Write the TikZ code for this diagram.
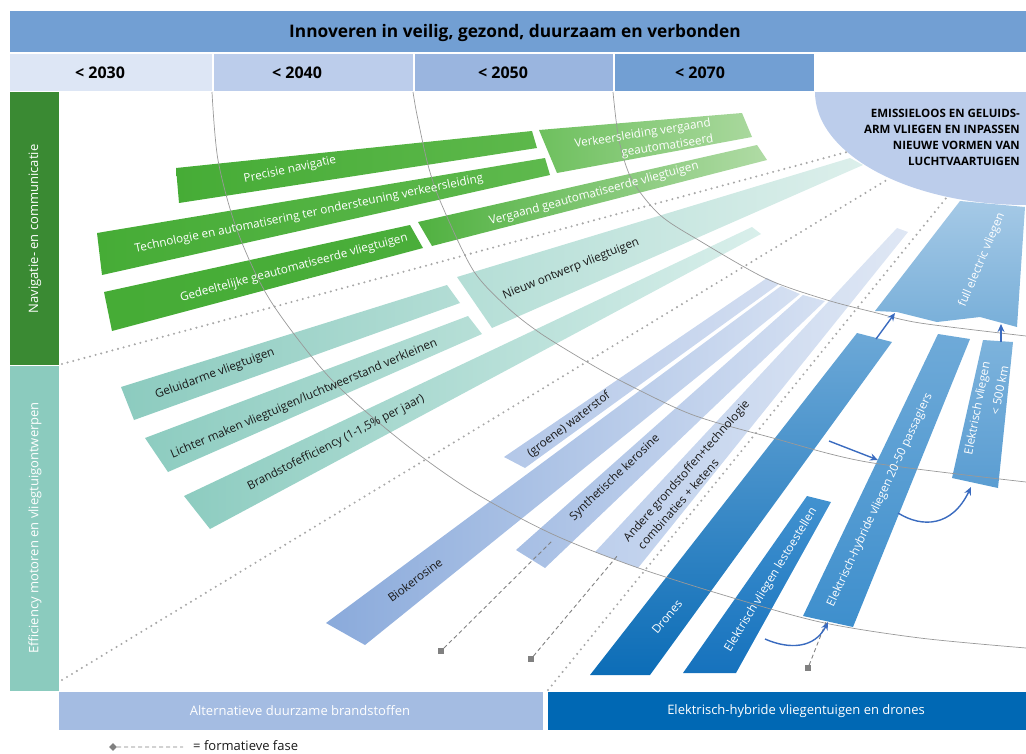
\documentclass[tikz,border=0pt]{standalone}
\usepackage{fontspec}
\setmainfont{Open Sans}
\usetikzlibrary{arrows.meta}
\definecolor{titleblue}{HTML}{729FD3}
\definecolor{yearA}{HTML}{DDE6F5}
\definecolor{yearB}{HTML}{BCCDEB}
\definecolor{yearC}{HTML}{9AB5DF}
\definecolor{navgreen}{HTML}{3A8A33}
\definecolor{effteal}{HTML}{8BCBBE}
\definecolor{fuelblue}{HTML}{A4BCE2}
\definecolor{elecblue}{HTML}{0068B4}
\definecolor{arrowblue}{HTML}{3A6BBF}
\definecolor{dotgray}{HTML}{A8A8A8}
\definecolor{markgray}{HTML}{808080}
\definecolor{arcgray}{HTML}{999999}
\definecolor{darktext}{HTML}{1A1A1A}
\tikzset{
  barlabel/.style={font=\fontsize{11.7}{16}\selectfont, inner sep=0pt},
  lightlabel/.style={barlabel, text=white},
  darklabel/.style={barlabel, text=darktext},
  sidelabel/.style={font=\fontsize{13}{16}\selectfont, text=white, rotate=90, inner sep=0pt},
  bottomlabel/.style={font=\fontsize{13}{16}\selectfont, text=white, inner sep=0pt},
  yearlabel/.style={font=\bfseries\fontsize{16}{19}\selectfont, inner sep=0pt},
  arcline/.style={arcgray, line width=0.7pt},
  dotline/.style={dotgray, line width=2.3pt, line cap=round, dash pattern=on 0pt off 5.8pt},
  formline/.style={markgray, line width=0.9pt, dash pattern=on 4pt off 3pt},
  fmark/.style={fill=markgray, minimum size=5.5pt, inner sep=0pt},
  flow/.style={arrowblue, line width=1.4pt, -{Stealth[length=8pt,width=7pt]}}
}
\begin{document}
\begin{tikzpicture}[x=1pt,y=-1pt]
\useasboundingbox (0,0) rectangle (1026,753);
\fill[titleblue] (10,11) rectangle (1026,52);
\node[font=\bfseries\fontsize{17.3}{20}\selectfont, inner sep=0pt] (title) at (515,33) {Innoveren in veilig, gezond, duurzaam en verbonden};
\fill[yearA] (10,54) rectangle (212,91);
\fill[yearB] (214,54) rectangle (413,91);
\fill[yearC] (415,54) rectangle (613,91);
\fill[titleblue] (615,54) rectangle (814,91);
\node[yearlabel] (y2030) at (100,73) {< 2030};
\node[yearlabel] (y2040) at (297,73) {< 2040};
\node[yearlabel] (y2050) at (503,73) {< 2050};
\node[yearlabel] (y2070) at (700,73) {< 2070};
\begin{scope}
\clip (815,92) rectangle (1026,210);
\fill[yearB] (1026,92) ellipse[x radius=211, y radius=113];
\end{scope}
\node[font=\bfseries\fontsize{11.5}{16}\selectfont, align=right, anchor=east, inner sep=0pt] (goal) at (1020,137) {EMISSIELOOS EN GELUIDS-\\ARM VLIEGEN EN INPASSEN\\NIEUWE VORMEN VAN\\LUCHTVAARTUIGEN};
\fill[navgreen] (10,92) rectangle (59,365);
\node[sidelabel] (navlabel) at (35,229) {Navigatie- en communicatie};
\fill[effteal] (10,366) rectangle (59,691);
\node[sidelabel] (efflabel) at (35,528) {Efficiency motoren en vliegtuigontwerpen};
\fill[fuelblue] (59,692) rectangle (543,730);
\node[bottomlabel] (fuellabel) at (300,711) {Alternatieve duurzame brandstoffen};
\fill[elecblue] (548,692) rectangle (1026,730);
\node[bottomlabel] (eleclabel) at (796,711) {Elektrisch-hybride vliegentuigen en drones};
\shade[left color={rgb,255:red,70;green,172;blue,54}, right color={rgb,255:red,93;green,184;blue,75}] (176,168) -- (532,131) -- (537,148) -- (179,203) -- cycle;
\shade[left color={rgb,255:red,70;green,172;blue,54}, right color={rgb,255:red,94;green,185;blue,77}] (97,233) -- (545,158) -- (550,175) -- (102,275) -- cycle;
\shade[left color={rgb,255:red,70;green,172;blue,54}, right color={rgb,255:red,74;green,174;blue,58}] (104,292) -- (410,225) -- (423,248) -- (112,331) -- cycle;
\shade[left color={rgb,255:red,80;green,177;blue,64}, right color={rgb,255:red,176;green,219;blue,165}] (418,222) -- (757,145) -- (767,160) -- (432,246) -- cycle;
\shade[left color={rgb,255:red,110;green,192;blue,94}, right color={rgb,255:red,169;green,216;blue,157}] (539,130) -- (742,113) -- (752,137) -- (557,173) -- cycle;
\shade[left color={rgb,255:red,140;green,203;blue,191}, right color={rgb,255:red,179;green,221;blue,213}] (121,387) -- (447,285) -- (460,303) -- (134,420) -- cycle;
\shade[left color={rgb,255:red,141;green,204;blue,192}, right color={rgb,255:red,183;green,223;blue,215}] (145,438) -- (468,316) -- (482,334) -- (168,472) -- cycle;
\shade[left color={rgb,255:red,141;green,204;blue,192}, right color={rgb,255:red,217;green,239;blue,235}] (184,496) -- (752,227) -- (761,234) -- (210,529) -- cycle;
\shade[left color={rgb,255:red,180;green,222;blue,214}, right color={rgb,255:red,220;green,239;blue,235}] (457,277) -- (850,158) -- (863,165) -- (492,328) -- cycle;
\shade[left color={rgb,255:red,179;green,199;blue,232}, right color={rgb,255:red,211;green,222;blue,241}] (504,457) -- (767,278) -- (779,284) -- (525,468) -- cycle;
\shade[left color={rgb,255:red,138;green,170;blue,219}, right color={rgb,255:red,213;green,224;blue,242}] (326,623) -- (781,286) -- (800,294) -- (365,645) -- cycle;
\shade[left color={rgb,255:red,166;green,190;blue,228}, right color={rgb,255:red,213;green,224;blue,242}] (516,550) -- (803,295) -- (825,301) -- (545,568) -- cycle;
\shade[left color={rgb,255:red,189;green,207;blue,236}, right color={rgb,255:red,223;green,231;blue,244}] (595,552) -- (897,228) -- (908,232) -- (638,568) -- cycle;
\shade[top color={rgb,255:red,108;green,168;blue,215}, bottom color={rgb,255:red,12;green,109;blue,183}] (590,675) -- (857,333) -- (892,342) -- (650,675) -- cycle;
\shade[top color={rgb,255:red,66;green,146;blue,208}, bottom color={rgb,255:red,22;green,114;blue,189}] (683,673) -- (807,496) -- (831,502) -- (736,673) -- cycle;
\shade[top color={rgb,255:red,111;green,170;blue,216}, bottom color={rgb,255:red,62;green,143;blue,205}] (803,616) -- (938,334) -- (970,339) -- (853,627) -- cycle;
\shade[top color={rgb,255:red,125;green,179;blue,220}, bottom color={rgb,255:red,90;green,157;blue,210}] (983,340) -- (1013,342) -- (998,488) -- (952,478) -- cycle;
\shade[top color={rgb,255:red,165;green,201;blue,230}, bottom color={rgb,255:red,120;green,175;blue,217}] (960,201) -- (1025,207) -- (1017,327) -- (980,317) -- (937,322) -- (897,312) -- (875,311) -- cycle;
\draw[dotline] (62,364) -- (847,152);
\draw[dotline] (62,680) -- (890,178);
\draw[dotline] (548,690) -- (947,197);
\draw[arcline] plot[smooth] coordinates {(212,92) (218,160) (237,230) (270,300) (330,378) (400,440) (470,490) (550,533) (630,565) (720,594) (820,622) (920,638) (1026,648)};
\draw[arcline] plot[smooth] coordinates {(413,92) (417,115) (428,165) (441,203) (473,270) (507,307) (540,333) (587,362) (627,384) (693,415) (773,438) (867,462) (1026,482)};
\draw[arcline] plot[smooth] coordinates {(613,92) (619,140) (632,180) (660,215) (700,241) (767,279) (827,300) (873,312) (920,323) (1026,336)};
\node[fmark] (fmA) at (441,651) {};
\coordinate (synthIn) at (553,540);
\draw[formline] (fmA) -- (synthIn);
\node[fmark] (fmB) at (531,659) {};
\coordinate (andereIn) at (618,555);
\draw[formline] (fmB) -- (andereIn);
\node[fmark] (fmC) at (808,668) {};
\coordinate (hybBase) at (826,622);
\draw[formline] (fmC) -- (hybBase);
\coordinate (dronesTip) at (876,339);
\coordinate (fullIn) at (895,313);
\draw[flow] (dronesTip) -- (fullIn);
\coordinate (kmTip) at (1001,342);
\coordinate (fullInB) at (1001,324);
\draw[flow] (kmTip) -- (fullInB);
\coordinate (fuelOut) at (829,441);
\coordinate (hybIn) at (878,460);
\draw[flow] (fuelOut) -- (hybIn);
\coordinate (hybOut) at (898,513);
\coordinate (kmIn) at (971,487);
\draw[flow] (hybOut) .. controls (922,528) and (952,527) .. (kmIn);
\coordinate (lesOut) at (765,639);
\coordinate (hybInB) at (828,622);
\draw[flow] (lesOut) .. controls (790,650) and (815,648) .. (hybInB);
\node[lightlabel, rotate=12] (precisie) at (290,170) {Precisie navigatie};
\node[lightlabel, rotate=11.5] (technologie) at (309,214) {Technologie en automatisering ter ondersteuning verkeersleiding};
\node[lightlabel, rotate=15] (gedeeltelijk) at (294,268) {Gedeeltelijke geautomatiseerde vliegtuigen};
\node[lightlabel, rotate=15] (vergaand) at (594,194) {Vergaand geautomatiseerde vliegtuigen};
\node[lightlabel, rotate=9, align=right] (verkeer) at (644,142) {Verkeersleiding vergaand\\geautomatiseerd};
\node[darklabel, rotate=20.5] (geluid) at (215,374) {Geluidarme vliegtuigen};
\node[darklabel, rotate=23] (lichter) at (304,399) {Lichter maken vliegtuigen/luchtweerstand verkleinen};
\node[darklabel, rotate=27] (brandstof) at (336,443) {Brandstofefficiency (1-1,5\% per jaar)};
\node[darklabel, rotate=22] (ontwerp) at (571,269) {Nieuw ontwerp vliegtuigen};
\node[darklabel, rotate=36.5] (bio) at (415,580) {Biokerosine};
\node[darklabel, rotate=37] (waterstof) at (569,425) {(groene) waterstof};
\node[darklabel, rotate=43.5] (synth) at (615,478) {Synthetische kerosine};
\node[darklabel, rotate=48.6, align=left] (andere) at (692,476) {Andere grondstoffen+technologie\\\hspace{4pt}combinaties + ketens};
\node[lightlabel, rotate=50] (drones) at (667,617) {Drones};
\node[lightlabel, rotate=58.6] (les) at (771,580) {Elektrisch vliegen lestoestellen};
\node[lightlabel, rotate=65] (hybride) at (880,500) {Elektrisch-hybride vliegen 20-50 passagiers};
\node[lightlabel, rotate=79, align=right, font=\fontsize{11.7}{19}\selectfont] (korte) at (986,410) {Elektrisch vliegen\\< 500 km};
\node[lightlabel, rotate=67] (full) at (982,260) {full electric vliegen};
\node[fmark, rotate=45] (legmark) at (113,747) {};
\coordinate (legend end) at (183,747);
\draw[formline] (legmark) -- (legend end);
\node[font=\fontsize{13}{15}\selectfont, text=darktext, anchor=west, inner sep=0pt] (legtext) at (193,745.5) {= formatieve fase};
\end{tikzpicture}
\end{document}
